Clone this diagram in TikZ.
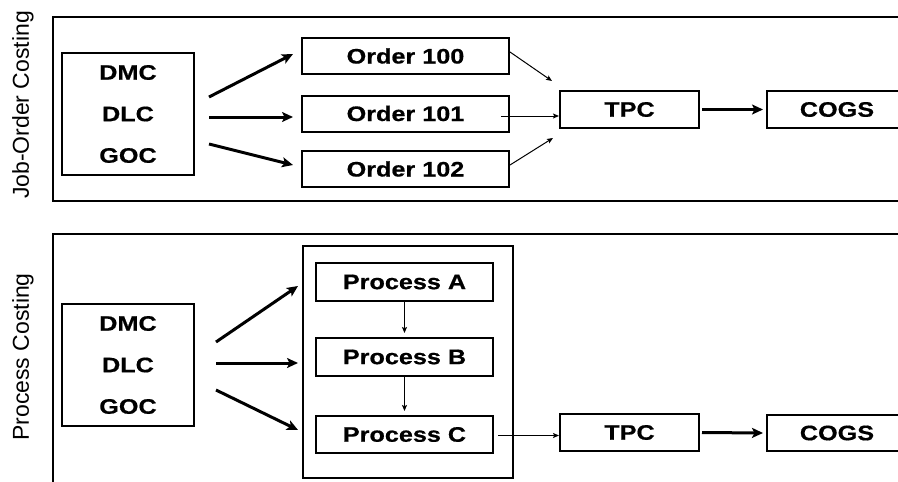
\documentclass[tikz,border=0pt]{standalone}
\usepackage{fontspec}
\setmainfont{Liberation Sans}
\newfontfamily\widesans{Liberation Sans}[FakeStretch=1.2,FakeBold=0.6]
\usetikzlibrary{arrows.meta,calc}
\tikzset{
  panel/.style={draw, line width=2.2pt},
  cbox/.style={draw, line width=2pt, inner sep=0pt, align=center,
    font=\widesans\bfseries\fontsize{21}{41.5}\selectfont},
  sidelabel/.style={rotate=90, inner sep=0pt, font=\fontsize{23}{26}\selectfont},
  bigarrow/.style={line width=3pt, -{Stealth[length=11pt,width=10pt,inset=2.5pt]}},
  smallarrow/.style={line width=1pt, -{Stealth[length=6pt,width=5pt,inset=1.2pt]}}
}
\begin{document}
\begin{tikzpicture}[x=1pt,y=-1pt]
\useasboundingbox (0,0) rectangle (898,482);
\clip (0,0) rectangle (898,482);
\fill[white] (0,0) rectangle (898,482);

% panels
\draw[panel] (53,17) rectangle (915,201);
\draw[panel] (53,234) rectangle (915,500);

\node[sidelabel] (lab1) at (23,105) {Job-Order Costing};
\node[sidelabel] (lab2) at (23,357) {Process Costing};

% ---- Job-order costing ----
\node[cbox, minimum width=132pt, minimum height=122pt] (tsrc) at (128,114) {DMC\\DLC\\GOC};
\node[cbox, minimum width=207pt, minimum height=36pt] (o100) at (405.5,56) {Order 100};
\node[cbox, minimum width=207pt, minimum height=36pt] (o101) at (405.5,113.5) {Order 101};
\node[cbox, minimum width=207pt, minimum height=36pt] (o102) at (405.5,169) {Order 102};
\node[cbox, minimum width=139pt, minimum height=37pt] (tpc1) at (629.5,109.5) {TPC};
\node[cbox, minimum width=140pt, minimum height=37pt] (cogs1) at (837,109.5) {COGS};

\draw[bigarrow] ($(tsrc.east)+(14,-17)$) -- ($(o100.west)+(-8,-2)$);
\draw[bigarrow] ($(tsrc.east)+(14,3)$) -- ($(o101.west)+(-8,3.5)$);
\draw[bigarrow] ($(tsrc.east)+(14,30)$) -- ($(o102.west)+(-8,-4)$);

\draw[smallarrow] ($(o100.east)+(0,-4)$) -- ($(tpc1.north west)+(-7,-9)$);
\draw[smallarrow] ($(o101.east)+(-9,2.5)$) -- ($(tpc1.west)+(0,6.5)$);
\draw[smallarrow] ($(o102.east)+(0,-4)$) -- ($(tpc1.south west)+(-6,9)$);
\draw[bigarrow] ($(tpc1.east)+(2,0)$) -- ($(cogs1.west)+(-3,0)$);

% ---- Process costing ----
\node[cbox, minimum width=132pt, minimum height=122pt] (bsrc) at (128,365) {DMC\\DLC\\GOC};
\node[draw, line width=2pt, minimum width=210pt, minimum height=232pt, inner sep=0pt] (ctr) at (408,362) {};
\node[cbox, minimum width=177pt, minimum height=38pt] (pa) at (404.5,282) {Process A};
\node[cbox, minimum width=177pt, minimum height=38pt] (pb) at (404.5,357) {Process B};
\node[cbox, minimum width=177pt, minimum height=37pt] (pc) at (404.5,434.5) {Process C};
\node[cbox, minimum width=139pt, minimum height=37pt] (tpc2) at (629.5,432.5) {TPC};
\node[cbox, minimum width=140pt, minimum height=36pt] (cogs2) at (837,433) {COGS};

\draw[bigarrow] ($(bsrc.east)+(21,-23)$) -- ($(ctr.west)+(-4,-76)$);
\draw[bigarrow] ($(bsrc.east)+(21,-2)$) -- ($(ctr.west)+(-4,1)$);
\draw[bigarrow] ($(bsrc.east)+(21,25)$) -- ($(ctr.west)+(-4,68)$);

\draw[smallarrow, shorten >=4pt] (pa.south) -- (pb.north);
\draw[smallarrow, shorten >=4pt] (pb.south) -- (pc.north);
\draw[smallarrow] ($(pc.east)+(4,1)$) -- ($(tpc2.west)+(0,3)$);
\draw[bigarrow] ($(tpc2.east)+(2,0)$) -- ($(cogs2.west)+(-3,0)$);
\end{tikzpicture}
\end{document}
